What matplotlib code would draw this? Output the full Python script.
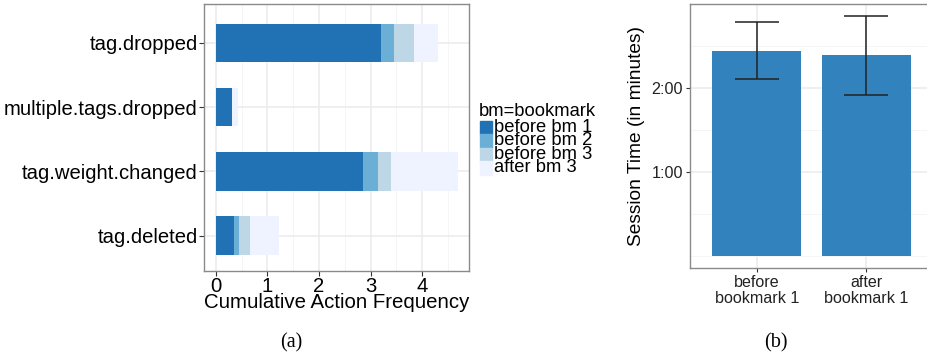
import numpy as np
import matplotlib
matplotlib.use('Agg')
import matplotlib.pyplot as plt
from matplotlib.patches import Rectangle

plt.rcParams['font.family'] = ['Liberation Sans', 'DejaVu Sans']

# left panel data (stacked segment sizes)
actions = ['tag.deleted', 'tag.weight.changed', 'multiple.tags.dropped', 'tag.dropped']
stages = ['before bm 1', 'before bm 2', 'before bm 3', 'after bm 3']
before1 = [0.35, 2.85, 0.31, 3.20]
before2 = [0.10, 0.30, 0.00, 0.26]
before3 = [0.21, 0.25, 0.00, 0.38]
after3 = [0.56, 1.30, 0.11, 0.47]
blues = ['#2171b5', '#6baed6', '#bdd7e7', '#eff3ff']

# right panel data (seconds)
periods = ['before\nbookmark 1', 'after\nbookmark 1']
session_mean = [146.5, 143.0]
session_err = [20.0, 28.0]

fig = plt.figure(figsize=(9.27, 3.6), dpi=100)

grid_major = '#ebebeb'
grid_minor = '#f4f4f4'
frame_c = '#8a8a8a'

# ---------- (a)
ax = fig.add_axes([204/927, 1-271/360, (469-204)/927, (271-4.3)/360])
ypos = np.arange(1, len(actions)+1)
left = np.zeros(len(actions))
for vals, col in zip([before1, before2, before3, after3], blues):
    ax.barh(ypos, vals, left=left, height=0.6, color=col, zorder=3)
    left = left + np.array(vals)
ax.set_xlim(-0.23, 4.91)
ax.set_ylim(0.45, 4.6)
ax.set_xticks([0, 1, 2, 3, 4])
ax.set_xticks([0.5, 1.5, 2.5, 3.5, 4.5], minor=True)
ax.set_yticks(ypos)
ax.set_yticklabels(actions)
ax.grid(True, which='major', color=grid_major, lw=1.1, zorder=0)
ax.grid(True, which='minor', axis='x', color=grid_minor, lw=0.6, zorder=0)
ax.tick_params(which='minor', length=0)
ax.tick_params(which='major', length=3.5, width=0.8, color='#333333', labelsize=14.6, pad=1)
ax.set_xlabel('Cumulative Action Frequency', fontsize=14.7, labelpad=-2)
for s in ax.spines.values():
    s.set_color(frame_c)
    s.set_linewidth(1)

# legend drawn by hand, ggplot-like tight keys
fig.text(479/927, 1-111/360, 'bm=bookmark', fontsize=13.2, va='center', ha='left')
for i, (lab, col) in enumerate(zip(stages, blues)):
    y0 = 120.7 + i*13.5
    fig.patches.append(Rectangle((480/927, 1-(y0+13.5)/360), 12.5/927, 13.5/360,
                                 transform=fig.transFigure, color=col, zorder=1))
    fig.text(494/927, 1-(y0+6.8)/360, lab, fontsize=13.2, va='center', ha='left')

# ---------- (b)
bx = fig.add_axes([690/927, 1-267.7/360, 242/927, (267.7-4.3)/360])
xpos = np.arange(1, len(periods)+1)
bx.bar(xpos, session_mean, width=0.81, color='#3182bd', zorder=3)
bx.errorbar(xpos, session_mean, yerr=session_err, fmt='none', ecolor='#222222',
            elinewidth=1.1, capsize=15.8, capthick=1.1, zorder=4)
bx.set_xlim(0.39, 2.6)
bx.set_ylim(-8.1, 179.4)
bx.set_yticks([60, 120])
bx.set_yticklabels(['1:00', '2:00'])
bx.set_yticks([0, 30, 90, 150], minor=True)
bx.set_xticks(xpos)
bx.set_xticklabels(periods, linespacing=1.12)
bx.grid(True, which='major', color=grid_major, lw=1.1, zorder=0)
bx.grid(True, which='minor', axis='y', color=grid_minor, lw=0.6, zorder=0)
bx.tick_params(which='minor', length=0)
bx.tick_params(which='major', length=3, width=0.8, color='#333333', labelsize=11.6,
               labelcolor='#222222', pad=2)
bx.set_ylabel('Session Time (in minutes)', fontsize=13.8, labelpad=5)
for s in bx.spines.values():
    s.set_color(frame_c)
    s.set_linewidth(1)

# captions
fig.text(291/927, 1-343/360, '(a)', fontsize=14.5, family=['Liberation Serif', 'DejaVu Serif'],
         ha='center', va='center')
fig.text(776/927, 1-343/360, '(b)', fontsize=14.5, family=['Liberation Serif', 'DejaVu Serif'],
         ha='center', va='center')

fig.savefig('out.png', dpi=100)
